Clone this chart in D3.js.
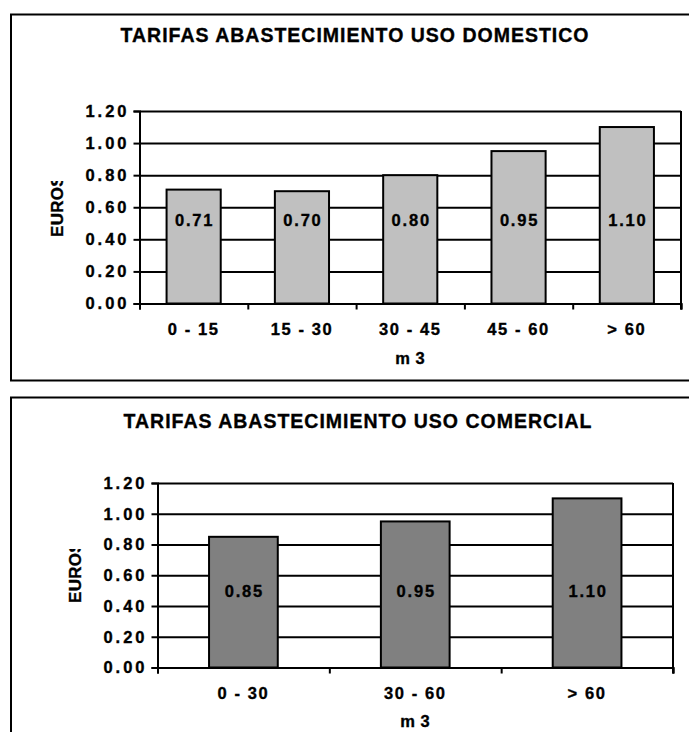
<!DOCTYPE html>
<html>
<head>
<meta charset="utf-8">
<script src="https://cdn.jsdelivr.net/npm/d3@7"></script>
<style>
  html, body { margin: 0; padding: 0; background: #fff; }
  svg { display: block; }
  text { font-family: Arial, "Liberation Sans", sans-serif; font-weight: bold; fill: #000;
         stroke: #000; stroke-width: 0.35px; }
</style>
</head>
<body>
<script>
// Water supply tariffs (EUR per m3) by consumption band
const domesticTitle = "TARIFAS ABASTECIMIENTO USO DOMESTICO";
const domesticCategories = ["0 - 15", "15 - 30", "30 - 45", "45 - 60", "> 60"];
const domesticValues = [0.71, 0.70, 0.80, 0.95, 1.10];

const commercialTitle = "TARIFAS ABASTECIMIENTO USO COMERCIAL";
const commercialCategories = ["0 - 30", "30 - 60", "> 60"];
const commercialValues = [0.85, 0.95, 1.10];

const yTickValues = [0.00, 0.20, 0.40, 0.60, 0.80, 1.00, 1.20];
const yAxisTitle = "EUROS";
const xAxisTitle = "m 3";

const W = 689, H = 732;
const svg = d3.select("body").append("svg").attr("width", W).attr("height", H);
const defs = svg.append("defs");

function drawChart(cfg, idx) {
  const g = svg.append("g");

  // outer chart frame (runs past the right edge of the page)
  g.append("rect")
    .attr("x", 11).attr("y", cfg.frameTop)
    .attr("width", W + 20).attr("height", cfg.frameBottom - cfg.frameTop)
    .attr("fill", "none").attr("stroke", "#000").attr("stroke-width", 2);

  g.append("text")
    .attr("x", cfg.titleX).attr("y", cfg.titleY)
    .attr("text-anchor", "middle")
    .attr("font-size", 19.5).attr("letter-spacing", 1)
    .text(cfg.title);

  const y = d3.scaleLinear().domain([0, 1.2]).range([cfg.bottom, cfg.top]);
  const x = d3.scaleBand().domain(cfg.categories)
    .range([cfg.left, cfg.right])
    .paddingInner(cfg.padInner).paddingOuter(cfg.padOuter);
  const xb = d3.scaleLinear().domain([0, cfg.categories.length]).range([cfg.left, cfg.right]);

  // horizontal gridlines
  const grid = g.append("g").attr("transform", `translate(${cfg.left},0)`)
    .call(d3.axisLeft(y).tickValues(yTickValues).tickSize(-(cfg.right - cfg.left)).tickFormat(""));
  grid.select(".domain").remove();
  grid.selectAll("line").attr("stroke", "#000").attr("stroke-width", 2);

  // right plot border
  g.append("line")
    .attr("x1", cfg.right).attr("x2", cfg.right)
    .attr("y1", y(1.2)).attr("y2", y(0) + 6)
    .attr("stroke", "#000").attr("stroke-width", 2);

  // bars
  g.selectAll("rect.bar").data(cfg.values).enter().append("rect")
    .attr("class", "bar")
    .attr("x", (d, i) => x(cfg.categories[i]))
    .attr("y", d => y(d))
    .attr("width", x.bandwidth())
    .attr("height", d => y(0) - y(d))
    .attr("fill", cfg.color).attr("stroke", "#000").attr("stroke-width", 2);

  // value labels
  g.selectAll("text.val").data(cfg.values).enter().append("text")
    .attr("class", "val")
    .attr("x", (d, i) => x(cfg.categories[i]) + x.bandwidth() / 2 + 1)
    .attr("y", y(cfg.labelAt))
    .attr("dy", "0.36em")
    .attr("text-anchor", "middle")
    .attr("font-size", 16.5).attr("letter-spacing", 1.8)
    .text(d => d3.format(".2f")(d));

  // y axis
  const ya = g.append("g").attr("transform", `translate(${cfg.left},0)`)
    .call(d3.axisLeft(y).tickValues(yTickValues).tickSize(6).tickPadding(4).tickFormat(d3.format(".2f")));
  ya.selectAll("line, path").attr("stroke", "#000").attr("stroke-width", 2);
  ya.selectAll("text").attr("font-size", 16.5).attr("letter-spacing", 3)
    .attr("font-family", null).attr("fill", "#000");

  // x axis: ticks on category boundaries
  const xa = g.append("g").attr("transform", `translate(0,${cfg.bottom})`)
    .call(d3.axisBottom(xb).tickValues(d3.range(cfg.categories.length + 1)).tickSize(6).tickFormat(""));
  xa.selectAll("line, path").attr("stroke", "#000").attr("stroke-width", 2);

  const xl = g.append("g").attr("transform", `translate(0,${cfg.bottom})`)
    .call(d3.axisBottom(x).tickSize(0).tickPadding(20));
  xl.select(".domain").remove();
  xl.selectAll("text").attr("font-size", 16.5).attr("letter-spacing", 1.6)
    .attr("font-family", null).attr("fill", "#000");

  // axis titles
  g.append("text")
    .attr("x", (cfg.left + cfg.right) / 2).attr("y", cfg.xTitleY)
    .attr("text-anchor", "middle").attr("font-size", 16.5).attr("letter-spacing", 0.5)
    .text(xAxisTitle);

  const clipId = "ytitle-clip-" + idx;
  defs.append("clipPath").attr("id", clipId)
    .append("rect").attr("x", 0).attr("y", cfg.yTitleClip).attr("width", 120).attr("height", 400);
  g.append("g").attr("clip-path", `url(#${clipId})`)
    .append("text")
    .attr("transform", `translate(${cfg.yTitleX},${cfg.yTitleBottom}) rotate(-90)`)
    .attr("text-anchor", "start").attr("dy", "0.36em")
    .attr("font-size", 17).attr("letter-spacing", 0.3)
    .text(yAxisTitle);
}

drawChart({
  title: domesticTitle, categories: domesticCategories, values: domesticValues,
  frameTop: 14.5, frameBottom: 380.5, titleX: 355, titleY: 41.7,
  left: 139.5, right: 681, top: 111, bottom: 303.5,
  padInner: 0.5, padOuter: 0.25, color: "#c0c0c0", labelAt: 0.52,
  xTitleY: 363.5, yTitleX: 57, yTitleBottom: 237, yTitleClip: 181
}, 0);

drawChart({
  title: commercialTitle, categories: commercialCategories, values: commercialValues,
  frameTop: 397.5, frameBottom: H + 20, titleX: 358, titleY: 428,
  left: 157.5, right: 673, top: 483, bottom: 667.5,
  padInner: 0.6, padOuter: 0.3, color: "#808080", labelAt: 0.50,
  xTitleY: 726.5, yTitleX: 75, yTitleBottom: 603, yTitleClip: 549
}, 1);
</script>
</body>
</html>
